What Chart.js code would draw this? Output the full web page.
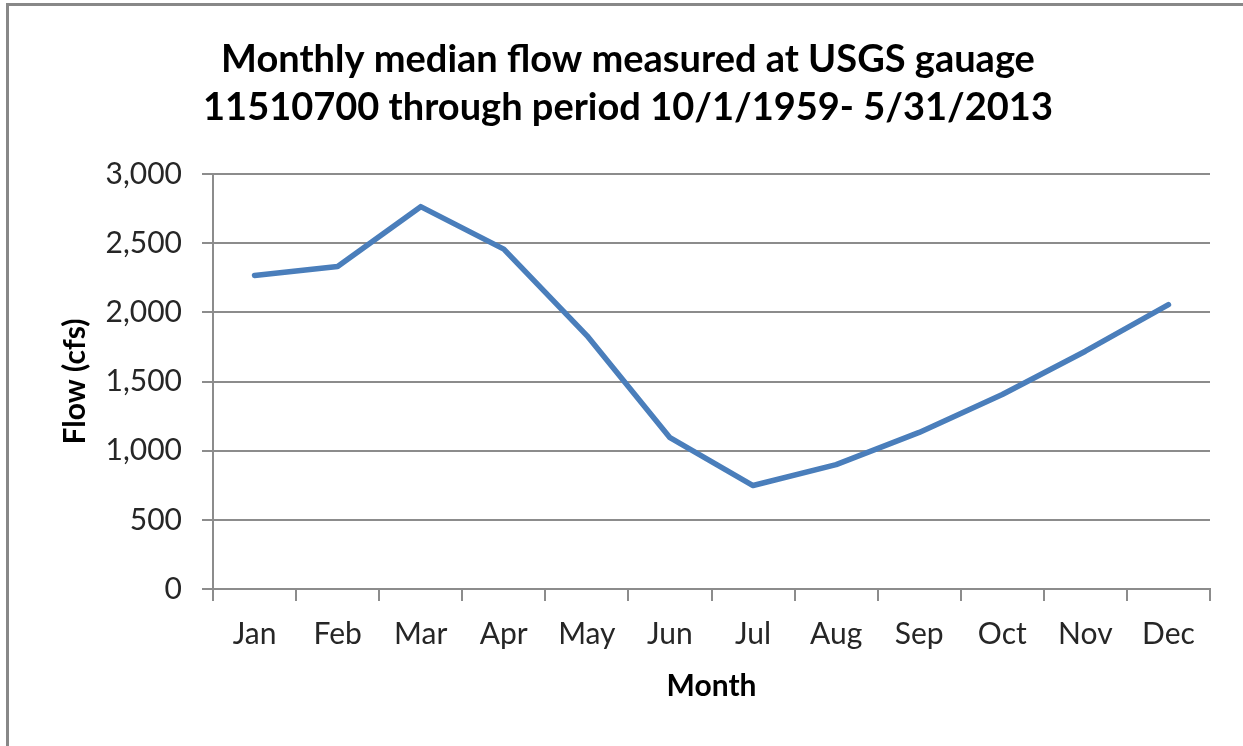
<!DOCTYPE html>
<html>
<head>
<meta charset="utf-8">
<script src="https://cdn.jsdelivr.net/npm/chart.js@4"></script>
<style>
  html, body { margin: 0; padding: 0; background: #fff; }
  #wrap { position: relative; width: 1243px; height: 746px; overflow: hidden; }
  #frame { position: absolute; left: 6px; top: 3px; width: 1300px; height: 800px;
           border-left: 3px solid #888; border-top: 3px solid #888; pointer-events: none; }
  canvas { position: absolute; left: 0; top: 0; }
</style>
</head>
<body>
<div id="wrap">
  <canvas id="chart" width="1243" height="746"></canvas>
  <div id="frame"></div>
</div>
<script>
// values
const months = ["Jan", "Feb", "Mar", "Apr", "May", "Jun", "Jul", "Aug", "Sep", "Oct", "Nov", "Dec"];
const medianFlow = [2266, 2332, 2764, 2457, 1832, 1094, 748, 899, 1132, 1406, 1719, 2056];
const titleLines = ["Monthly median flow measured at USGS gauage", "11510700 through period 10/1/1959- 5/31/2013"];

const gridColor = "#8c8c8c";
const textColor = "#262626";

new Chart(document.getElementById("chart"), {
    type: "line",
    data: {
        labels: months,
        datasets: [{
            data: medianFlow,
            borderColor: "#4a7ebb",
            borderWidth: 5.5,
            pointRadius: 0,
            tension: 0,
            borderJoinStyle: "round",
            borderCapStyle: "round",
        }],
    },
    options: {
        responsive: false,
        animation: false,
        layout: { padding: { left: 46, right: 33, top: 0, bottom: 0 } },
        plugins: {
            legend: { display: false },
            tooltip: { enabled: false },
            title: {
                display: true,
                text: titleLines,
                color: "#000",
                font: { family: "Lato", weight: "bold", size: 38, lineHeight: "48px" },
                padding: { top: 36, bottom: 42 },
            },
        },
        scales: {
            x: {
                offset: true,
                grid: {
                    offset: true,
                    drawOnChartArea: false,
                    drawTicks: true,
                    tickLength: 12,
                    color: gridColor,
                    lineWidth: 2,
                },
                border: { color: gridColor, width: 2 },
                ticks: { color: textColor, font: { family: "Lato", size: 30 }, padding: 15, maxRotation: 0 },
                title: {
                    display: true,
                    text: "Month",
                    color: "#000",
                    font: { family: "Lato", weight: "bold", size: 30 },
                    padding: { top: 4, bottom: 42 },
                },
                afterFit: (scale) => { scale.height = 746 - 589; },
            },
            y: {
                min: 0,
                max: 3000,
                ticks: {
                    stepSize: 500,
                    color: textColor,
                    font: { family: "Lato", size: 30 },
                    padding: 20,
                    callback: (v) => v.toLocaleString("en-US"),
                },
                grid: { color: gridColor, lineWidth: 2, tickLength: 11 },
                border: { color: gridColor, width: 2 },
                title: {
                    display: true,
                    text: "Flow (cfs)",
                    color: "#000",
                    font: { family: "Lato", weight: "bold", size: 30 },
                    padding: { top: 11, bottom: 0 },
                },
                afterFit: (scale) => { scale.width = 213 - 46; },
            },
        },
    },
});
</script>
</body>
</html>
